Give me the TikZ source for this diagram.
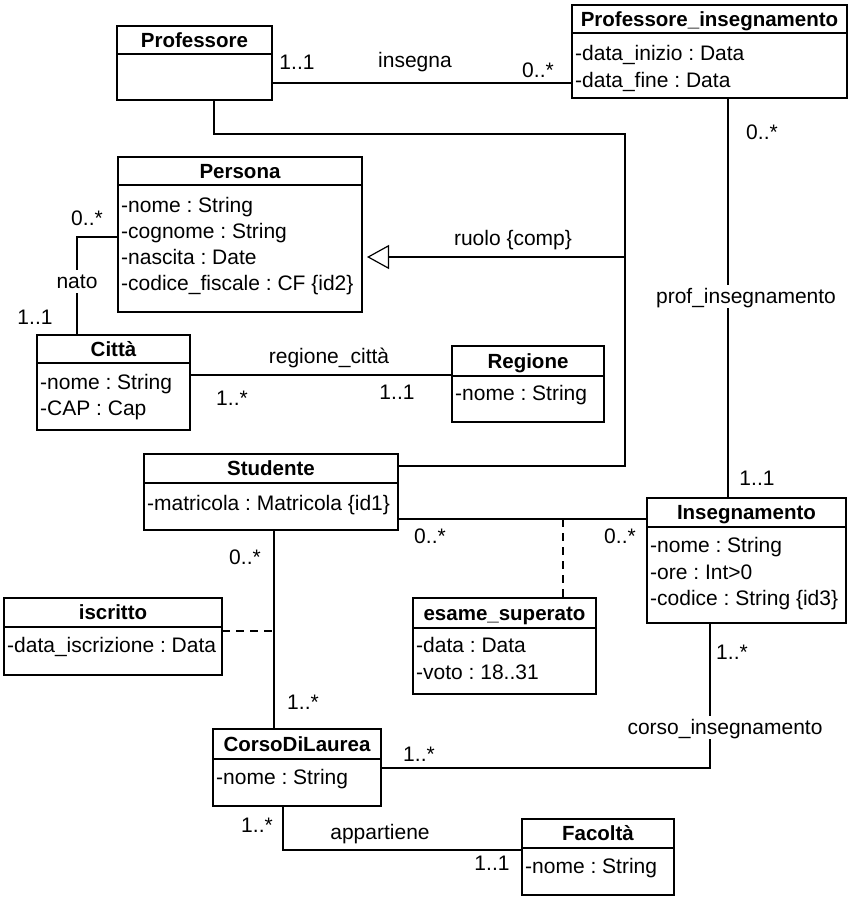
\documentclass[tikz,border=0pt]{standalone}
\usepackage{fontspec}
\setmainfont{Liberation Sans}
\usetikzlibrary{arrows.meta}

% class box: name, x, y, width, height, header height, title
\newcommand\umlclass[7]{%
  \node[box,minimum width=#4,minimum height=#5] (#1) at (#2,#3) {};
  \draw[divider] ([yshift=-#6]#1.north west) -- ([yshift=-#6]#1.north east);
  \node[ttl] (#1-t) at ([yshift=-#6/2]#1.north) {#7};
}

\begin{document}
\frenchspacing
\begin{tikzpicture}[x=1pt,y=-1pt,
  font=\fontsize{21}{24}\selectfont,
  box/.style={draw,line width=2pt,rectangle,anchor=north west,inner sep=0pt,outer sep=0pt},
  divider/.style={line width=1.3pt},
  ttl/.style={font=\fontsize{20.5}{24}\selectfont\bfseries,inner sep=0pt,text height=14.7pt,text depth=0pt},
  attr/.style={anchor=west,inner sep=0pt,text height=15pt,text depth=0pt},
  lbl/.style={inner sep=0pt,text height=15pt,text depth=0pt},
  gaplbl/.style={fill=white,inner sep=4pt,text height=15pt,text depth=0pt},
  wire/.style={line width=1.2pt},
  dashwire/.style={line width=1.2pt,dash pattern=on 8pt off 6pt},
  gen/.style={line width=1.2pt,-{Triangle[open,length=22pt,width=24pt,line width=1.2pt]}}]

\useasboundingbox (0,0) rectangle (856,898);

% ---------- classes ----------
\umlclass{prof}{117}{26}{155}{74}{28}{Professore}

\umlclass{pins}{572}{5}{275}{93}{28}{Professore\_insegnamento}
\node[attr] (pins-a1) at (575,53) {-data\_inizio : Data};
\node[attr] (pins-a2) at (575,80) {-data\_fine : Data};

\umlclass{pers}{118}{157}{244}{155}{28}{Persona}
\node[attr] (pers-a1) at (121,205) {-nome : String};
\node[attr] (pers-a2) at (121,231) {-cognome : String};
\node[attr] (pers-a3) at (121,257) {-nascita : Date};
\node[attr] (pers-a4) at (121,283) {-codice\_fiscale : CF \{id2\}};

\umlclass{citta}{37}{335}{153}{95}{28}{Città}
\node[attr] (citta-a1) at (40,382) {-nome : String};
\node[attr] (citta-a2) at (40,408) {-CAP : Cap};

\umlclass{reg}{452}{346}{152}{76}{30}{Regione}
\node[attr] (reg-a1) at (455,393) {-nome : String};

\umlclass{stud}{144}{454}{254}{76}{29}{Studente}
\node[attr] (stud-a1) at (147,503) {-matricola : Matricola \{id1\}};

\umlclass{ins}{647}{498}{199}{125}{29}{Insegnamento}
\node[attr] (ins-a1) at (650,545) {-nome : String};
\node[attr] (ins-a2) at (650,572) {-ore : Int>0};
\node[attr] (ins-a3) at (650,598) {-codice : String \{id3\}};

\umlclass{esame}{413}{598}{183}{96}{30}{esame\_superato}
\node[attr] (esame-a1) at (416,645) {-data : Data};
\node[attr] (esame-a2) at (416,672) {-voto : 18..31};

\umlclass{iscr}{4}{598}{218}{77}{29}{iscritto}
\node[attr] (iscr-a1) at (7,645) {-data\_iscrizione : Data};

\umlclass{cdl}{213}{729}{168}{77}{30}{CorsoDiLaurea}
\node[attr] (cdl-a1) at (216,777) {-nome : String};

\umlclass{fac}{522}{819}{152}{76}{29}{Facoltà}
\node[attr] (fac-a1) at (525,866) {-nome : String};

% ---------- routing points ----------
\coordinate (yins) at (0,83);
\coordinate (r1) at (214,134);
\coordinate (r2) at (625,134);
\coordinate (r3) at (625,466);
\coordinate (g) at (625,257);
\coordinate (n1) at (77,237);
\coordinate (rc) at (0,375);
\coordinate (pi) at (728,0);
\coordinate (si) at (0,519);
\coordinate (es) at (563,519);
\coordinate (ci1) at (710,768);
\coordinate (sc) at (274,0);
\coordinate (isc) at (274,631);
\coordinate (ap) at (283,850);

% ---------- connectors ----------
% insegna
\draw[wire] (prof.east |- yins) -- (pins.west |- yins);
% ruolo {comp}: Professore and Studente generalise Persona
\draw[wire] (prof.south -| r1) -- (r1) -- (r2) -- (r3) -- (stud.east |- r3);
\draw[gen] (g) -- ([xshift=5pt]pers.east |- g);
% nato
\draw[wire] (pers.west |- n1) -- (n1) -- (citta.north -| n1);
% regione_città
\draw[wire] (citta.east |- rc) -- (reg.west |- rc);
% prof_insegnamento
\draw[wire] (pins.south -| pi) -- (ins.north -| pi);
% esame_superato
\draw[wire] (stud.east |- si) -- (ins.west |- si);
\draw[dashwire] (es) -- (esame.north -| es);
% corso_insegnamento
\draw[wire] (ins.south -| ci1) -- (ci1) -- (cdl.east |- ci1);
% iscritto
\draw[wire] (stud.south -| sc) -- (cdl.north -| sc);
\draw[dashwire] (iscr.east |- isc) -- (isc);
% appartiene
\draw[wire] (cdl.south -| ap) -- (ap) -- (fac.west |- ap);

% ---------- labels ----------
\node[lbl] (l1) at (297,62) {1..1};
\node[lbl] (l2) at (415,60) {insegna};
\node[lbl] (l3) at (538,70) {0..*};
\node[lbl] (l4) at (513,238) {ruolo \{comp\}};
\node[lbl] (l5) at (87,218) {0..*};
\node[gaplbl] (l6) at (77,281) {nato};
\node[lbl] (l7) at (35,317) {1..1};
\node[lbl] (l8) at (329,356) {regione\_città};
\node[lbl] (l9) at (232,398) {1..*};
\node[lbl] (l10) at (397,392) {1..1};
\node[lbl] (l11) at (762,132) {0..*};
\node[gaplbl] (l12) at (746,296) {prof\_insegnamento};
\node[lbl] (l13) at (757,478) {1..1};
\node[lbl] (l14) at (430,536) {0..*};
\node[lbl] (l15) at (620,536) {0..*};
\node[lbl] (l16) at (245,557) {0..*};
\node[lbl] (l17) at (303,702) {1..*};
\node[lbl] (l18) at (732,652) {1..*};
\node[gaplbl] (l19) at (725,727) {corso\_insegnamento};
\node[lbl] (l20) at (419,754) {1..*};
\node[lbl] (l21) at (257,825) {1..*};
\node[lbl] (l22) at (380,832) {appartiene};
\node[lbl] (l23) at (492,863) {1..1};

\end{tikzpicture}
\end{document}
